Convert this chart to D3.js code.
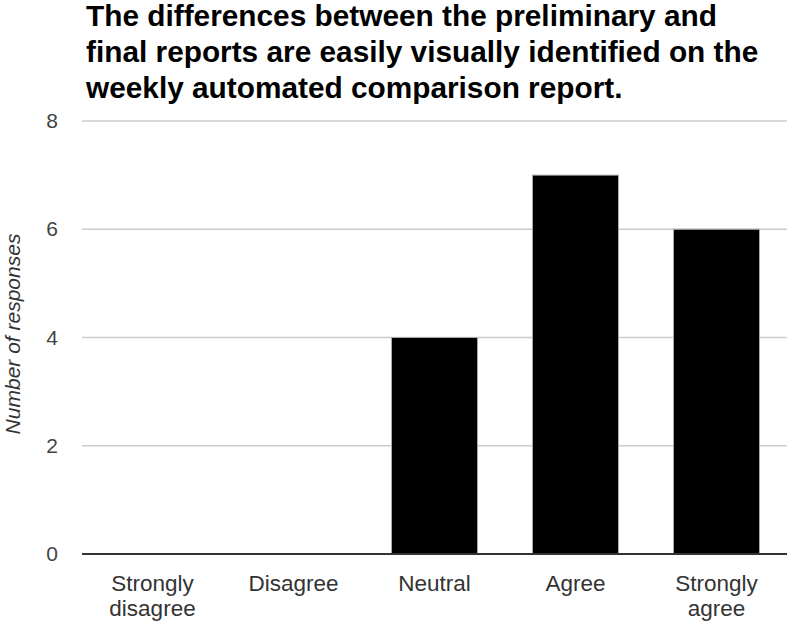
<!DOCTYPE html>
<html>
<head>
    <meta charset="utf-8">
    <style>
        body { margin: 0; background: #fff; }
        svg { font-family: 'Liberation Sans', Arial, sans-serif; }
    </style>
</head>
<body>
    <svg width="788" height="623"></svg>

<script src="https://d3js.org/d3.v7.min.js"></script>
<script>
    // data
    let categories = [["Strongly", "disagree"], ["Disagree"], ["Neutral"], ["Agree"], ["Strongly", "agree"]];
    let responses = [0, 0, 4, 7, 6];
    let yTicks = [0, 2, 4, 6, 8];
    let titleLines = [
        "The differences between the preliminary and",
        "final reports are easily visually identified on the",
        "weekly automated comparison report."
    ];

    let width = 788;
    let height = 623;
    let margin = { top: 121, right: 1, bottom: 68, left: 82 };

    let svg = d3.select("svg")

    let keys = categories.map(function(c) { return c.join(" ") })

    let x = d3.scaleBand()
        .domain(keys)
        .range([margin.left, width - margin.right])
        .paddingInner(0.39)
        .paddingOuter(0.195)

    let y = d3.scaleLinear()
        .domain([0, 8])
        .range([height - margin.bottom - 1, margin.top])

    // title
    svg.append("g")
        .selectAll("text")
        .data(titleLines)
        .enter().append("text")
        .attr("x", 86)
        .attr("y", function(d, i) { return 26 + i * 36 })
        .style("font-size", "29.8px")
        .style("font-weight", "bold")
        .style("fill", "#000")
        .text(function(d) { return d })

    // gridlines
    svg.selectAll(".grid")
        .data(yTicks.filter(function(t) { return t > 0 }))
        .enter().append("line")
        .attr("x1", margin.left)
        .attr("x2", width - margin.right)
        .attr("y1", function(d) { return y(d) })
        .attr("y2", function(d) { return y(d) })
        .style("stroke", "#ccc")
        .style("stroke-width", "1.5px")

    // y labels
    let yAxis = d3.axisLeft(y)
        .tickValues(yTicks)
        .tickSize(0)
        .tickPadding(24)

    let yG = svg.append("g")
        .attr("transform", `translate(${margin.left},0)`)
        .call(yAxis)
    yG.select(".domain").remove()
    yG.selectAll("text")
        .style("font-size", "21px")
        .style("fill", "#444")
        .style("font-family", "'Liberation Sans', Arial, sans-serif")

    // bars
    svg.selectAll(".bar")
        .data(keys.map(function(k, i) { return { key: k, value: responses[i] } }).filter(function(d) { return d.value > 0 }))
        .enter().append("rect")
        .attr("class", "bar")
        .attr("x", function(d) { return x(d.key) })
        .attr("width", x.bandwidth())
        .attr("y", function(d) { return y(d.value) })
        .attr("height", function(d) { return y(0) - y(d.value) })
        .style("fill", "#000")
        .style("stroke", "#aaa")
        .style("stroke-width", "1px")

    // baseline
    svg.append("line")
        .attr("x1", margin.left)
        .attr("x2", width - margin.right)
        .attr("y1", y(0))
        .attr("y2", y(0))
        .style("stroke", "#333")
        .style("stroke-width", "2px")

    // x labels
    let xl = svg.selectAll(".xlabel")
        .data(categories)
        .enter().append("text")
        .attr("class", "xlabel")
        .attr("text-anchor", "middle")
        .attr("x", function(d) { return x(d.join(" ")) + x.bandwidth() / 2 })
        .attr("y", 591)
        .style("font-size", "22.5px")
        .style("fill", "#333")

    xl.selectAll("tspan")
        .data(function(d) { return d })
        .enter().append("tspan")
        .attr("x", function() { return d3.select(this.parentNode).attr("x") })
        .attr("dy", function(d, i) { return i == 0 ? 0 : 25 })
        .text(function(d) { return d })

    // y title
    svg.append("text")
        .attr("transform", "translate(20,334) rotate(-90)")
        .attr("text-anchor", "middle")
        .style("font-size", "21px")
        .style("font-style", "italic")
        .style("fill", "#333")
        .text("Number of responses")
</script>
</body>
</html>
